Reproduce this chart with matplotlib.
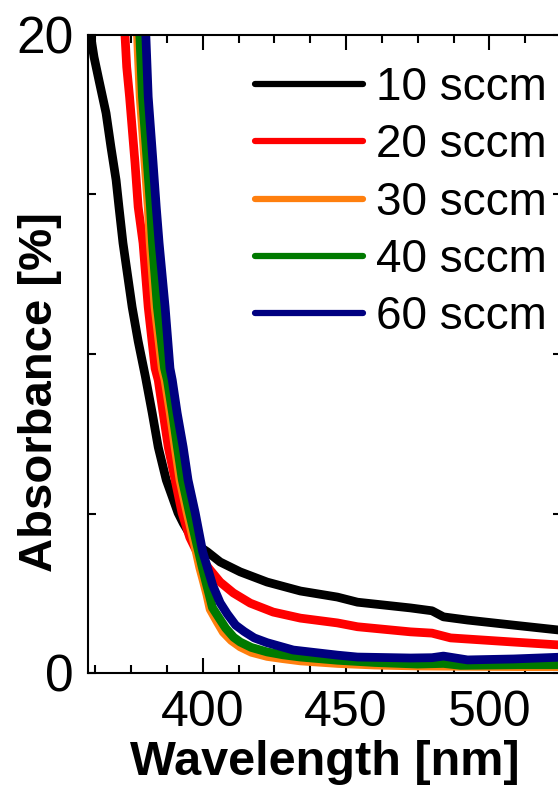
import matplotlib
matplotlib.use("Agg")
import matplotlib.pyplot as plt
from matplotlib.ticker import FixedLocator, FixedFormatter, MultipleLocator

# ---- data ----
labels = ["10 sccm", "20 sccm", "30 sccm", "40 sccm", "60 sccm"]
colors = ["#000000", "#ff0000", "#ff7f0e", "#007a00", "#000080"]

wl_10 = [360.3, 361.0, 362.1, 363.8, 366.3, 368.0, 369.8, 370.8, 372.2, 375.4, 377.5, 380.0,
         382.4, 384.5, 387.3, 389.5, 391.4, 393.2, 395.5, 398.0, 401.6, 406.1, 413.1, 422.5,
         434.1, 447.0, 454.0, 472.5, 480.0, 484.0, 492.4, 508.5, 526.0]
ab_10 = [20.3, 19.94, 19.31, 18.59, 17.55, 16.49, 15.45, 14.61, 13.48, 11.47, 10.4, 9.3,
         8.15, 7.08, 6.05, 5.5, 5.02, 4.70, 4.35, 4.02, 3.80, 3.48, 3.17, 2.85,
         2.57, 2.38, 2.22, 2.04, 1.95, 1.76, 1.66, 1.50, 1.33]

wl_20 = [372.6, 373.5, 374.5, 376.4, 377.5, 379.2, 381.0, 383.4, 384.5, 386.2, 388.0, 390.4,
         392.8, 395.5, 398.5, 402.6, 406.1, 410.7, 416.6, 424.6, 434.1, 447.0, 454.0, 472.5,
         480.0, 486.5, 508.5, 526.0]
ab_20 = [20.5, 19.0, 18.06, 15.99, 14.61, 13.48, 11.47, 9.55, 9.18, 8.15, 7.08, 6.05,
         5.02, 4.25, 3.70, 3.23, 2.85, 2.51, 2.19, 1.91, 1.72, 1.57, 1.45, 1.29,
         1.25, 1.10, 0.97, 0.87]

wl_30 = [376.6, 377.3, 378.2, 379.9, 381.0, 381.7, 383.4, 385.9, 386.9, 388.7, 390.4, 392.1,
         394.6, 397.4, 399.0, 400.2, 401.5, 402.6, 405.1, 407.2, 410.0, 413.1, 417.0, 422.5,
         428.0, 434.1, 447.0, 460.0, 475.0, 490.0, 510.0, 526.0]
ab_30 = [20.5, 19.94, 18.06, 15.99, 14.61, 13.48, 11.47, 9.55, 9.18, 8.15, 7.08, 6.05,
         5.02, 3.95, 3.30, 2.90, 2.45, 2.00, 1.60, 1.28, 1.02, 0.82, 0.65, 0.52,
         0.45, 0.38, 0.30, 0.25, 0.22, 0.21, 0.20, 0.20]

wl_40 = [377.4, 378.1, 379.0, 380.7, 381.8, 382.5, 384.2, 386.7, 387.7, 389.5, 391.2, 392.9,
         395.4, 398.2, 399.9, 401.0, 402.3, 403.4, 405.9, 408.0, 410.8, 413.1, 417.0, 422.5,
         428.0, 434.1, 447.0, 460.0, 475.0, 484.0, 490.0, 510.0, 526.0]
ab_40 = [20.5, 19.94, 18.06, 15.99, 14.61, 13.48, 11.47, 9.55, 9.18, 8.15, 7.08, 6.05,
         5.02, 3.95, 3.30, 2.90, 2.45, 2.05, 1.70, 1.41, 1.12, 0.97, 0.80, 0.66,
         0.57, 0.50, 0.40, 0.33, 0.28, 0.30, 0.24, 0.26, 0.26]

wl_60 = [379.5, 380.2, 381.0, 382.7, 383.8, 384.8, 386.9, 388.6, 389.4, 391.1, 393.2, 394.9,
         397.4, 400.0, 403.5, 406.1, 408.6, 411.5, 414.5, 418.0, 422.5, 431.6, 447.0, 454.0,
         472.5, 480.0, 484.0, 492.4, 508.5, 526.0]
ab_60 = [20.5, 19.94, 18.06, 15.99, 14.61, 13.48, 11.47, 9.55, 9.18, 8.15, 7.08, 6.05,
         5.02, 3.80, 2.75, 2.20, 1.85, 1.50, 1.30, 1.10, 0.95, 0.72, 0.56, 0.50,
         0.47, 0.48, 0.53, 0.41, 0.44, 0.50]

wls = [wl_10, wl_20, wl_30, wl_40, wl_60]
abs_ = [ab_10, ab_20, ab_30, ab_40, ab_60]

xticks = [400, 450, 500]
xtick_labels = ["400", "450", "500"]
yticks = [0, 5, 10, 15, 20]
ytick_labels = ["0", "", "", "", "20"]

# ---- figure ----
plt.rcParams['font.family'] = ['Liberation Sans', 'DejaVu Sans']
W, H = 558, 787
fig = plt.figure(figsize=(W / 100, H / 100), dpi=100)
ax = fig.add_axes([88 / W, 1 - 673 / H, (561 - 88) / W, (673 - 35) / H])

for x, y, c, lab in zip(wls, abs_, colors, labels):
    ax.plot(x, y, color=c, lw=6.3, label=lab, solid_capstyle='round', solid_joinstyle='round')

ax.set_xlim(360, 525)
ax.set_ylim(0, 20)

ax.xaxis.set_major_locator(FixedLocator(xticks))
ax.xaxis.set_major_formatter(FixedFormatter(xtick_labels))
ax.xaxis.set_minor_locator(MultipleLocator(12.5))
ax.yaxis.set_major_locator(FixedLocator(yticks))
ax.yaxis.set_major_formatter(FixedFormatter(ytick_labels))

for s in ax.spines.values():
    s.set_linewidth(1.5)

ax.tick_params(axis='both', which='both', direction='in', top=True, right=True, width=1.5)
ax.tick_params(axis='x', which='major', length=11, labelsize=36, pad=12)
ax.tick_params(axis='x', which='minor', length=6)
ax.tick_params(axis='y', which='major', length=6, labelsize=37, pad=10)

ax.set_xlabel("Wavelength [nm]", fontsize=35, fontweight='bold', labelpad=3)
ax.set_ylabel("Absorbance [%]", fontsize=34, fontweight='bold')
ax.yaxis.set_label_coords(-0.056, 0.44)

leg = ax.legend(loc='upper left', bbox_to_anchor=(255 / W, 1 - 66 / H),
                bbox_transform=fig.transFigure, frameon=False, fontsize=33,
                handlelength=2.35, handletextpad=0.3, labelspacing=0.29,
                borderpad=0, borderaxespad=0)
for ln in leg.get_lines():
    ln.set_linewidth(4.5)
    ln.set_solid_capstyle('round')

fig.savefig("out.png", dpi=100)
